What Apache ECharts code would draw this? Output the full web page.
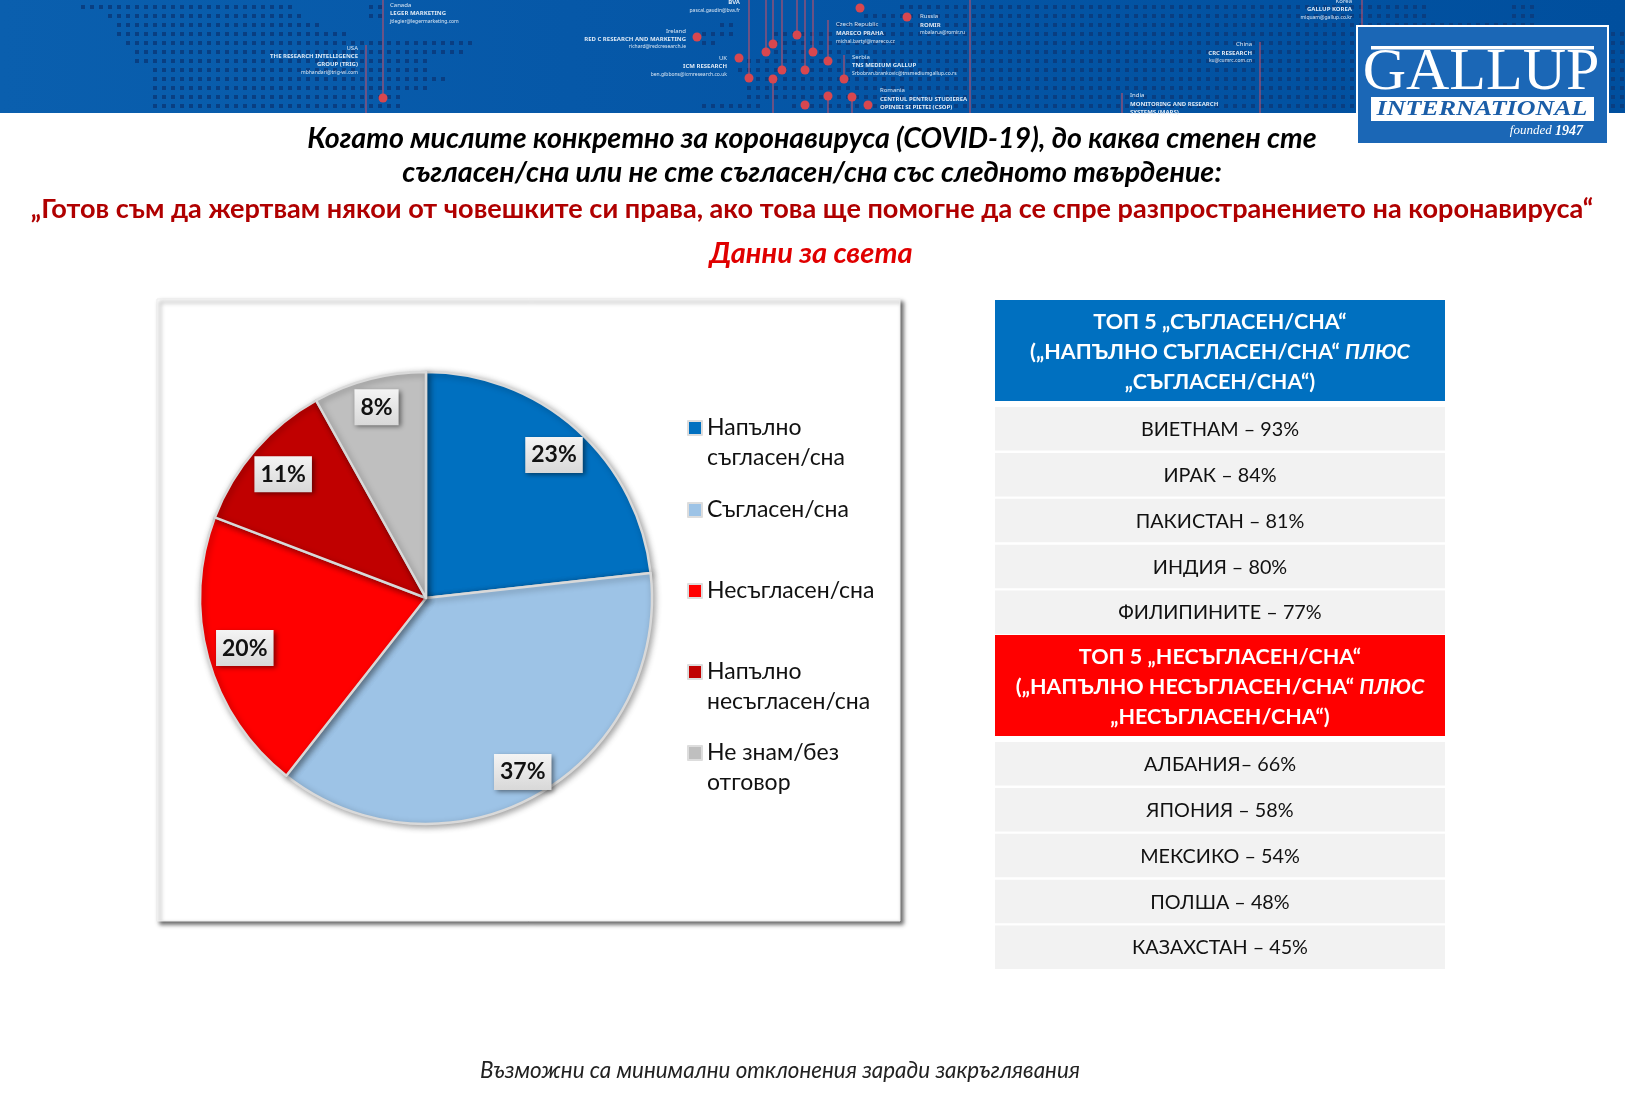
<!DOCTYPE html>
<html><head><meta charset="utf-8">
<style>html,body{margin:0;padding:0;background:#fff}#c{width:1625px;height:1099px}</style>
<script src="https://cdn.jsdelivr.net/npm/echarts@6/dist/echarts.min.js"></script>
</head><body><div id="c"></div>
<script>
const categories = ['Напълно\nсъгласен/сна','Съгласен/сна','Несъгласен/сна','Напълно\nнесъгласен/сна','Не знам/без\nотговор'];
const shares = [23,37,20,11,8];
const sliceColors = ['#0070C0','#9DC3E6','#FF0000','#C00000','#BFBFBF'];
const legendCentres = [428,510,591,672,753];
const agreeNames = ['ВИЕТНАМ','ИРАК','ПАКИСТАН','ИНДИЯ','ФИЛИПИНИТЕ'];
const agreeValues = [93,84,81,80,77];
const disagreeNames = ['АЛБАНИЯ','ЯПОНИЯ','МЕКСИКО','ПОЛША','КАЗАХСТАН'];
const disagreeValues = [66,58,54,48,45];
const titleLines = ['Когато мислите конкретно за коронавируса (COVID-19), до каква степен сте','съгласен/сна или не сте съгласен/сна със следното твърдение:'];
const statement = '„Готов съм да жертвам някои от човешките си права, ако това ще помогне да се спре разпространението на коронавируса“';
const subtitle = 'Данни за света';
const footnote = 'Възможни са минимални отклонения заради закръглявания';
const FONT = 'Lato, Carlito, "Noto Sans", sans-serif';

const g = [];
// banner
g.push({type:'rect',z:0,shape:{x:0,y:0,width:1625,height:113},style:{fill:{type:'linear',x:0,y:0,x2:1,y2:0,colorStops:[{offset:0,color:'#0A5FAE'},{offset:.35,color:'#0658A8'},{offset:1,color:'#004F9E'}]}}});
const dotSpans = [
 [[77,290],[365,383],[900,1430],[1507,1530]],
 [[100,297],[365,383],[860,1430],[1507,1530]],
 [[115,323],[720,735],[830,1530]],
 [[115,347],[700,730],[770,1625]],
 [[123,470],[700,715],[770,1625]],
 [[130,463],[770,1625]],
 [[130,430],[740,1625]],
 [[145,427],[733,1625]],
 [[145,447],[740,1625]],
 [[145,430],[740,1625]],
 [[145,400],[740,1625]],
 [[145,400],[700,760],[790,1625]]];
dotSpans.forEach((spans,r)=>spans.forEach(([a,b])=>{for(let x=Math.ceil(a/9)*9;x<=b;x+=9){g.push({type:'rect',z:1,silent:true,shape:{x:x,y:5+9*r,width:4,height:4},style:{fill:'#0A3D80',opacity:.95}});}}));
const redLines = [[366,45,113],[383,0,98],[749,0,78],[766,0,52],[773,0,44],[773,79,113],[782,0,70],[797,0,35],[805,0,70],[813,0,52],[828,20,61],[828,96,113],[844,55,79],[852,97,113],[970,0,113],[1122,93,113],[1260,42,113],[1362,0,27]];
redLines.forEach(l=>g.push({type:'line',z:2,shape:{x1:l[0],y1:l[1],x2:l[0],y2:l[2]},style:{stroke:'#B0506E',lineWidth:1.2}}));
const redDots = [[383,98],[860,8],[907,17],[697,37],[797,35],[773,44],[766,52],[813,52],[739,58],[828,61],[782,70],[805,70],[749,78],[773,79],[844,79],[828,96],[852,97],[805,105],[868,105]];
redDots.forEach(d=>g.push({type:'circle',z:3,shape:{cx:d[0],cy:d[1],r:4.5},style:{fill:'#D8474F'}}));
const bannerTexts = [
 [390,5,'Canada',6,'left'],[390,13,'LEGER MARKETING',6,'left',1],[390,22,'jtlegier@legermarketing.com',5,'left'],
 [358,48,'USA',6,'right'],[358,56,'THE RESEARCH INTELLIGENCE',6,'right',1],[358,64,'GROUP (TRIG)',6,'right',1],[358,73,'mbhandari@trig-wi.com',5,'right'],
 [686,31,'Ireland',6,'right'],[686,39,'RED C RESEARCH AND MARKETING',6,'right',1],[686,47,'richard@redcresearch.ie',5,'right'],
 [727,58,'UK',6,'right'],[727,66,'ICM RESEARCH',6,'right',1],[727,75,'ben.gibbons@icmresearch.co.uk',5,'right'],
 [740,2,'BVA',6,'right',1],[740,11,'pascal.gaudin@bva.fr',5,'right'],
 [836,24,'Czech Republic',6,'left'],[836,33,'MARECO PRAHA',6,'left',1],[836,42,'michal.bartyl@mareco.cz',5,'left'],
 [852,57,'Serbia',6,'left'],[852,65,'TNS MEDIUM GALLUP',6,'left',1],[852,74,'Srbobran.brankovic@tnsmediumgallup.co.rs',5,'left'],
 [880,90,'Romania',6,'left'],[880,99,'CENTRUL PENTRU STUDIEREA',6,'left',1],[880,107,'OPINIEI SI PIETEI (CSOP)',6,'left',1],
 [920,16,'Russia',6,'left'],[920,25,'ROMIR',6,'left',1],[920,33,'mbalan.a@romir.ru',5,'left'],
 [1130,95,'India',6,'left'],[1130,104,'MONITORING AND RESEARCH',6,'left',1],[1130,112,'SYSTEMS (MARS)',6,'left',1],
 [1252,44,'China',6,'right'],[1252,53,'CRC RESEARCH',6,'right',1],[1252,61,'ku@cumrc.com.cn',5,'right'],
 [1352,1,'Korea',6,'right'],[1352,9,'GALLUP KOREA',6,'right',1],[1352,18,'miquam@gallup.co.kr',5,'right']];
bannerTexts.forEach(t=>g.push({type:'text',z:4,x:t[0],y:t[1],style:{text:t[2],fontSize:t[3],fontWeight:t[5]?'bold':'normal',fontFamily:'"Noto Sans",sans-serif',fill:'#dce8f5',align:t[4],verticalAlign:'middle'}}));
// logo
g.push({type:'rect',z:5,shape:{x:1357,y:26,width:251,height:118},style:{fill:'#1B67B6',stroke:'#fff',lineWidth:2}});
g.push({type:'rect',z:6,shape:{x:1371,y:46,width:223,height:3.5},style:{fill:'#fff'}});
g.push({type:'rect',z:6,shape:{x:1371,y:97,width:223,height:24},style:{fill:'#fff'}});
g.push({type:'text',z:7,x:1481,y:73,style:{text:'GALLUP',font:'normal 60px "Liberation Serif"',fill:'#fff',align:'center',verticalAlign:'middle'}});
g.push({type:'text',z:7,x:1482,y:110,scaleX:1.3,originX:0,style:{text:'INTERNATIONAL',font:'italic bold 20px "Liberation Serif"',fill:'#1B5EA8',align:'center',verticalAlign:'middle'}});
g.push({type:'text',z:7,x:1583,y:131,style:{text:'{a|founded }{b|1947}',align:'right',verticalAlign:'middle',rich:{a:{font:'italic 13px "Liberation Serif"',fill:'#fff'},b:{font:'italic bold 14px "Liberation Serif"',fill:'#fff'}}}});
// chart panel
g.push({type:'rect',z:0,shape:{x:157,y:299,width:743,height:622},style:{fill:'#fff',stroke:'#EDEDED',lineWidth:1,shadowBlur:4,shadowColor:'rgba(0,0,0,.6)',shadowOffsetX:3,shadowOffsetY:3}});
// tables
function table(headY,color,rowsY,head,names,values){
  g.push({type:'rect',z:1,shape:{x:995,y:headY,width:450,height:101},style:{fill:color}});
  g.push({type:'text',z:2,x:1220,y:headY+52,style:{text:head,fill:'#fff',align:'center',verticalAlign:'middle',lineHeight:30,rich:{
    b:{font:'bold 21.5px '+FONT,fill:'#fff',lineHeight:30},i:{font:'italic bold 21.5px '+FONT,fill:'#fff',lineHeight:30}}}});
  names.forEach((n,i)=>{const y=rowsY+45.9*i;
    g.push({type:'rect',z:1,shape:{x:995,y:y,width:450,height:43.5},style:{fill:'#F2F2F2'}});
    g.push({type:'text',z:2,x:1220,y:y+22.5,style:{text:n+(n==='АЛБАНИЯ'?'– ':' – ')+values[i]+'%',font:'19.8px '+FONT,fill:'#111',align:'center',verticalAlign:'middle'}});
  });
}
table(300,'#0070C0',407,'{b|ТОП 5 „СЪГЛАСЕН/СНА“}\n{b|(„НАПЪЛНО СЪГЛАСЕН/СНА“ }{i|ПЛЮС}\n{b|„СЪГЛАСЕН/СНА“)}',agreeNames,agreeValues);
table(635,'#FF0000',742,'{b|ТОП 5 „НЕСЪГЛАСЕН/СНА“}\n{b|(„НАПЪЛНО НЕСЪГЛАСЕН/СНА“ }{i|ПЛЮС}\n{b|„НЕСЪГЛАСЕН/СНА“)}',disagreeNames,disagreeValues);

const centerX=426, centerY=598, pieR=226;
const labelRadii=[189,196,185,186,194];
const titles = [
 {text:titleLines[0],left:812,top:139,color:'#000',size:28.6,style:'italic'},
 {text:titleLines[1],left:812,top:173,color:'#000',size:28.6,style:'italic'},
 {text:statement,left:812,top:209,color:'#B00000',size:27.1,style:'normal'},
 {text:subtitle,left:811,top:254,color:'#E00000',size:29,style:'italic'},
 {text:footnote,left:780,top:1071,color:'#222',size:22.4,style:'italic',weight:'normal'}
].map(t=>({text:t.text,left:t.left,top:t.top,textAlign:'center',textVerticalAlign:'middle',padding:0,
  textStyle:{color:t.color,fontSize:t.size,fontStyle:t.style,fontWeight:t.weight||'bold',fontFamily:FONT}}));

const legends = categories.map((c,i)=>{const two=c.includes('\n');return {
  data:[c],selectedMode:false,left:687,top:legendCentres[i]-(two?45:15),padding:0,itemWidth:14,itemHeight:14,itemGap:0,icon:'rect',
  itemStyle:{borderColor:'#DDD',borderWidth:2},
  formatter:n=>two?'\n'+n:n,
  textStyle:{fontFamily:FONT,fontSize:23,color:'#111',lineHeight:30}};});

const total=shares.reduce((a,b)=>a+b,0);
function midAngle(i){let s=0;for(let k=0;k<i;k++)s+=shares[k];return (s+shares[i]/2)/total*2*Math.PI;}

echarts.init(document.getElementById('c'),null,{renderer:'canvas'}).setOption({
  animation:false,backgroundColor:'#fff',title:titles,legend:legends,graphic:{elements:g},
  series:[{type:'pie',center:[centerX,centerY],radius:[0,pieR],startAngle:90,clockwise:true,silent:true,z:3,
    itemStyle:{borderColor:'#D9D9D9',borderWidth:2.5,shadowBlur:6,shadowColor:'rgba(0,0,0,.35)',shadowOffsetX:2,shadowOffsetY:2},
    data:categories.map((c,i)=>({name:c,value:shares[i],itemStyle:{color:sliceColors[i]}})),
    label:{position:'inside',formatter:'{c}%',color:'#111',fontFamily:FONT,fontWeight:'bold',fontSize:23,padding:[7,6,6,6],
      backgroundColor:{type:'linear',x:0,y:0,x2:0,y2:1,colorStops:[{offset:0,color:'#F4F4F4'},{offset:1,color:'#D8D8D8'}]},
      shadowBlur:5,shadowColor:'rgba(0,0,0,.5)',shadowOffsetX:2,shadowOffsetY:2},
    labelLine:{show:false},
    labelLayout:p=>{const a=midAngle(p.dataIndex),d=labelRadii[p.dataIndex]-pieR/2;
      return {dx:d*Math.sin(a),dy:-d*Math.cos(a)};}
  }]
});
</script></body></html>
